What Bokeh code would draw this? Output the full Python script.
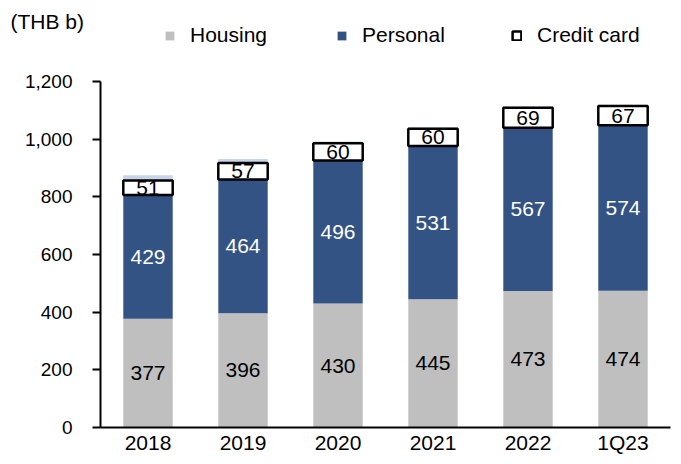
from bokeh.plotting import figure
from bokeh.models import (ColumnDataSource, LabelSet, Label, Legend, LegendItem, Range1d,
                          NumeralTickFormatter, FixedTicker, LinearAxis)
from bokeh.core.properties import value
from bokeh.embed import file_html
from bokeh.resources import INLINE

years = ["2018", "2019", "2020", "2021", "2022", "1Q23"]
housing = [377, 396, 430, 445, 473, 474]
personal = [429, 464, 496, 531, 567, 574]
credit_card = [51, 57, 60, 60, 69, 67]
others = [18, 14, 6, 5, 5, 4]
y_ticks = [0, 200, 400, 600, 800, 1000, 1200]

FONT = "Liberation Sans"

xs = [i + 0.5 for i in range(len(years))]
p_top = [a + b for a, b in zip(housing, personal)]
c_top = [a + b for a, b in zip(p_top, credit_card)]
o_top = [a + b for a, b in zip(c_top, others)]

src = ColumnDataSource(dict(
    x=xs, housing=housing, personal=personal, credit=credit_card,
    h_top=housing, p_bot=housing, p_top=p_top, c_bot=p_top, c_top=c_top,
    o_bot=c_top, o_top=o_top,
    h_mid=[t / 2 for t in housing],
    p_mid=[(a + b) / 2 for a, b in zip(housing, p_top)],
    c_mid=[(a + b) / 2 for a, b in zip(p_top, c_top)],
))

W, H = 676, 462
PX = 95.0            # pixels per category slot
LEFT = 100.0         # y axis position in pixels
ZERO = 427.0         # x axis position in pixels from top
YPX = 346.0 / 1200   # pixels per unit

p = figure(x_range=Range1d(-LEFT / PX, len(years) + (W - LEFT - PX * len(years)) / PX),
           y_range=Range1d(-(H - ZERO) / YPX, ZERO / YPX),
           width=W, height=H, output_backend="svg", toolbar_location=None,
           x_axis_location=None, y_axis_location=None,
           min_border_left=0, min_border_right=0, min_border_top=0, min_border_bottom=0)
p.outline_line_color = None
p.grid.visible = False

BW = 0.52
r_h = p.vbar(x="x", bottom=0, top="h_top", width=BW, source=src, fill_color="#bfbfbf", line_color=None)
r_p = p.vbar(x="x", bottom="p_bot", top="p_top", width=BW, source=src, fill_color="#335385", line_color=None)
r_o = p.vbar(x="x", bottom="o_bot", top="o_top", width=BW, source=src, fill_color="#c8d5e8", line_color=None)
r_c = p.vbar(x="x", bottom="c_bot", top="c_top", width=BW, source=src, fill_color="white",
             line_color="black", line_width=2.5)

for ycol, txt, col in [("h_mid", "housing", "black"), ("p_mid", "personal", "white"),
                       ("c_mid", "credit", "black")]:
    p.add_layout(LabelSet(x="x", y=ycol, text=txt, source=src, text_align="center",
                          text_baseline="middle", text_color=col,
                          text_font=value(FONT), text_font_size="21px"))

# y axis, drawn at the left edge of the first category slot
yax = LinearAxis(fixed_location=0, bounds=(0, 1200))
yax.ticker = FixedTicker(ticks=y_ticks)
yax.formatter = NumeralTickFormatter(format="0,0")
yax.axis_line_color = "black"
yax.axis_line_width = 2
yax.major_tick_line_width = 2
yax.major_tick_out = 8
yax.major_tick_in = 0
yax.minor_tick_line_color = None
yax.major_label_standoff = 20
yax.major_label_text_font = FONT
yax.major_label_text_font_size = "19px"
yax.major_label_text_color = "black"
p.add_layout(yax, "left")

# x axis, drawn at y = 0
xax = LinearAxis(fixed_location=0, bounds=(0, len(years)))
xax.ticker = FixedTicker(ticks=xs)
xax.major_label_overrides = {x: y for x, y in zip(xs, years)}
xax.axis_line_color = "black"
xax.axis_line_width = 2
xax.major_tick_line_color = None
xax.minor_tick_line_color = None
xax.major_label_standoff = -3
xax.major_label_text_font = FONT
xax.major_label_text_font_size = "21px"
xax.major_label_text_color = "black"
p.add_layout(xax, "below")

# unit label
p.add_layout(Label(x=(10 - LEFT) / PX, y=(ZERO - 21) / YPX, text="(THB b)", text_font=FONT,
                   text_font_size="21px", text_baseline="middle", text_align="left",
                   text_color="black"))

# legends (one per item for exact placement)
for r, name, lx in [(r_h, "Housing", 164), (r_p, "Personal", 336), (r_c, "Credit card", 511)]:
    lg = Legend(items=[LegendItem(label=name, renderers=[r])], location=(lx, H - 47),
                orientation="horizontal", glyph_width=11, glyph_height=11, label_standoff=15,
                padding=0, margin=0, border_line_color=None, background_fill_alpha=0,
                label_text_font=FONT, label_text_font_size="21px", label_text_color="black",
                label_height=22)
    p.add_layout(lg, "center")

open("out.html", "w").write(file_html(p, INLINE))
